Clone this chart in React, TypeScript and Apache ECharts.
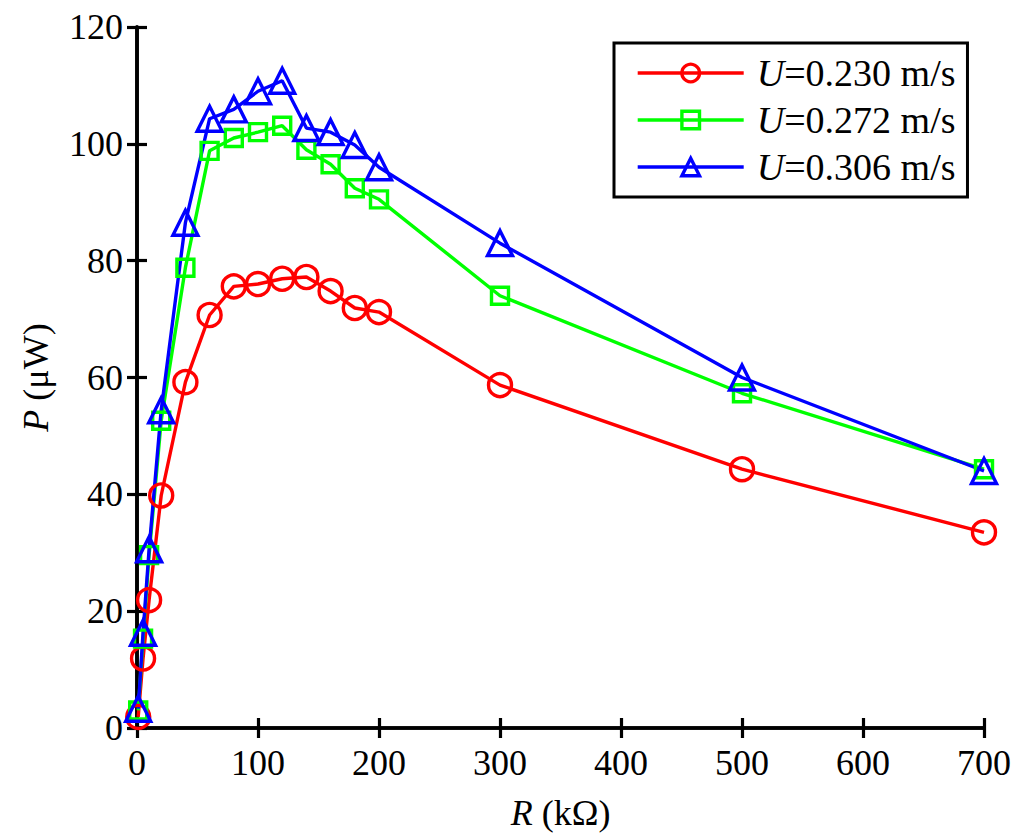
import React, { useEffect, useRef } from "react";
import * as echarts from "echarts";

const resistance = [1, 5, 10, 20, 40, 60, 80, 100, 120, 140, 160, 180, 200, 300, 500, 700];
const power230 = [1.9, 11.9, 21.9, 39.8, 59.2, 70.7, 75.6, 76.0, 76.9, 77.2, 74.8, 71.9, 71.2, 58.7, 44.3, 33.5];
const power272 = [3.0, 15.3, 29.6, 52.6, 78.8, 98.8, 101.0, 102.0, 103.1, 99.0, 96.5, 92.4, 90.5, 74.0, 57.3, 44.3];
const power306 = [3.3, 16.3, 30.6, 54.4, 86.5, 104.3, 105.9, 109.0, 110.8, 102.7, 102.0, 99.8, 96.0, 83.0, 60.0, 44.0];
const seriesNames = ["U=0.230 m/s", "U=0.272 m/s", "U=0.306 m/s"];
const xTicks = { min: 0, max: 700, interval: 100 };
const yTicks = { min: 0, max: 120, interval: 20 };

const FONT = '"Liberation Serif", "Times New Roman", serif';

export default function App() {
  const ref = useRef<HTMLDivElement>(null);
  useEffect(() => {
    if (!ref.current) return;
    const chart = echarts.init(ref.current, undefined, { renderer: "svg" });
    const mk = (name: string, vals: number[], color: string, symbol: string, size: number) => ({
      name,
      type: "line",
      data: resistance.map((r, i) => [r, vals[i]]),
      symbol,
      symbolSize: size,
      showAllSymbol: true,
      lineStyle: { color, width: 3.4 },
      itemStyle: { color: "rgba(0,0,0,0)", borderColor: color, borderWidth: 3.4 },
      emphasis: { disabled: true },
    });
    const axisLine = { show: true, lineStyle: { color: "#000", width: 3.6 } };
    const axisTick = { show: true, inside: true, length: 10, lineStyle: { color: "#000", width: 3.2 } };
    const nameStyle = {
      color: "#000",
      fontSize: 36,
      fontFamily: FONT,
      rich: { i: { fontSize: 36, fontFamily: FONT, fontStyle: "italic", color: "#000" } },
    };
    chart.setOption({
      animation: false,
      backgroundColor: "#fff",
      textStyle: { fontFamily: FONT },
      grid: { left: 137, right: 40, top: 27, bottom: 111, containLabel: false },
      legend: {
        show: true,
        orient: "vertical",
        left: 614,
        top: 43,
        data: seriesNames,
        itemWidth: 106,
        itemHeight: 22,
        itemGap: 9,
        padding: [11, 12, 11, 22],
        borderColor: "#000",
        borderWidth: 3,
        backgroundColor: "#fff",
        lineStyle: { width: 3.4 },
        itemStyle: { borderWidth: 3.4 },
        formatter: (n: string) => "{i|U}" + n.slice(1),
        textStyle: {
          fontFamily: FONT,
          fontSize: 38,
          lineHeight: 38,
          color: "#000",
          padding: [0, 0, 0, 8],
          rich: {
            i: { fontFamily: FONT, fontSize: 38, fontStyle: "italic", color: "#000" },
          },
        },
      },
      xAxis: [
        {
          type: "value",
          ...xTicks,
          position: "bottom",
          axisLine,
          axisTick,
          splitLine: { show: false },
          axisLabel: { color: "#000", fontSize: 36, fontFamily: FONT, margin: 17 },
          name: "{i|R} (kΩ)",
          nameLocation: "middle",
          nameGap: 67,
          nameTextStyle: nameStyle,
        },
        {
          type: "value",
          ...xTicks,
          position: "top",
          axisLine,
          axisTick,
          splitLine: { show: false },
          axisLabel: { show: false },
        },
      ],
      yAxis: [
        {
          type: "value",
          ...yTicks,
          position: "left",
          axisLine,
          axisTick,
          splitLine: { show: false },
          axisLabel: { color: "#000", fontSize: 36, fontFamily: FONT, margin: 14 },
          name: "{i|P} (μW)",
          nameLocation: "middle",
          nameGap: 83,
          nameRotate: 90,
          nameTextStyle: nameStyle,
        },
        {
          type: "value",
          ...yTicks,
          position: "right",
          axisLine,
          axisTick,
          splitLine: { show: false },
          axisLabel: { show: false },
        },
      ],
      series: [
        mk(seriesNames[0], power230, "#ff0000", "circle", 23),
        mk(seriesNames[1], power272, "#00ff00", "rect", 17),
        mk(seriesNames[2], power306, "#0000ff", "triangle", 25),
      ],
    });
    return () => chart.dispose();
  }, []);
  return <div ref={ref} style={{ position: "fixed", left: 0, top: 0, width: 1024, height: 839 }} />;
}
